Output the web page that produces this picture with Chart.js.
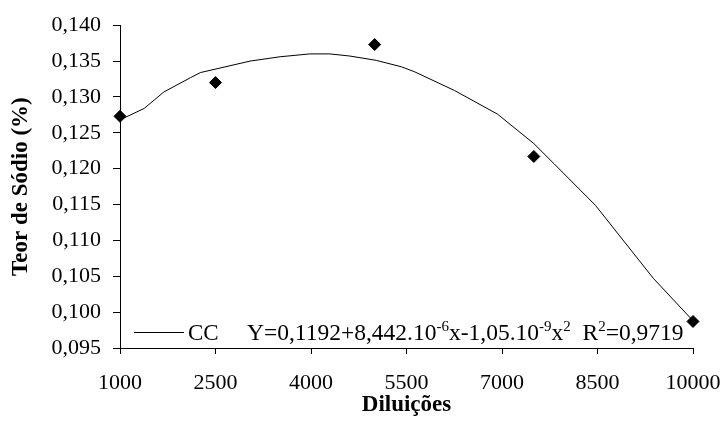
<!DOCTYPE html>
<html>
<head>
<meta charset="utf-8">
<script src="https://cdn.jsdelivr.net/npm/chart.js@4.4.1/dist/chart.umd.min.js"></script>
<style>
  html, body { margin: 0; padding: 0; background: #fff; }
  #wrap { width: 724px; height: 439px; }
</style>
</head>
<body>
<div id="wrap"><canvas id="sodioChart" width="724" height="439"></canvas></div>
<script>
// observed values
var diluicoes = [1000, 2500, 5000, 7500, 10000];
var teorSodio = [0.1273, 0.1320, 0.1373, 0.1217, 0.0987];

// trend line (CC)
var curvaX = [1000, 1380, 1690, 2110, 2265, 3045, 3515, 3985, 4295, 4610, 5025, 5420, 5628, 6253, 6930, 7500, 7816, 8467, 9378, 10000];
var curvaY = [0.1268, 0.1284, 0.1307, 0.1327, 0.1334, 0.1350, 0.1356, 0.1360, 0.1360, 0.1357, 0.1351, 0.1342, 0.1335, 0.1309, 0.1276, 0.1235, 0.1207, 0.1149, 0.1047, 0.0988];

var xTicks = [1000, 2500, 4000, 5500, 7000, 8500, 10000];
var yTicks = [0.095, 0.100, 0.105, 0.110, 0.115, 0.120, 0.125, 0.130, 0.135, 0.140];

var fonte = 'Liberation Serif, Times New Roman, serif';

var pontos = diluicoes.map(function (x, i) { return { x: x, y: teorSodio[i] }; });
var curva = curvaX.map(function (x, i) { return { x: x, y: curvaY[i] }; });

// legend + equation inside the plot, with superscripts
var legendaPlugin = {
  id: 'legenda',
  afterDraw: function (chart) {
    var ctx = chart.ctx;
    var area = chart.chartArea;
    var base = area.bottom - 8;
    ctx.save();
    ctx.strokeStyle = '#000';
    ctx.lineWidth = 1;
    ctx.beginPath();
    ctx.moveTo(area.left + 14, base - 7.5);
    ctx.lineTo(area.left + 64, base - 7.5);
    ctx.stroke();

    ctx.fillStyle = '#000';
    ctx.textBaseline = 'alphabetic';
    ctx.font = '23px ' + fonte;
    ctx.fillText('CC', area.left + 68, base);

    var partes = [
      ['Y=0,1192+8,442.10', false], ['-6', true], ['x-1,05.10', false], ['-9', true],
      ['x', false], ['2', true], ['  R', false], ['2', true], ['=0,9719', false]
    ];
    var x = area.left + 127;
    partes.forEach(function (p) {
      if (p[1]) {
        ctx.font = '15px ' + fonte;
        ctx.fillText(p[0], x, base - 9);
      } else {
        ctx.font = '23.5px ' + fonte;
        ctx.fillText(p[0], x, base);
      }
      x += ctx.measureText(p[0]).width;
    });
    ctx.restore();
  }
};

var ctx = document.getElementById('sodioChart');
var sodioChart = new Chart(ctx, {
  type: 'scatter',
  data: {
    datasets: [{
      label: 'Teor de Sódio',
      data: pontos,
      pointStyle: 'rectRot',
      pointRadius: 6,
      backgroundColor: '#000',
      borderColor: '#000',
      borderWidth: 1,
      showLine: false,
      clip: false,
      order: 1
    }, {
      label: 'CC',
      data: curva,
      showLine: true,
      pointRadius: 0,
      borderColor: '#000',
      borderWidth: 1,
      tension: 0,
      fill: false,
      order: 2
    }]
  },
  options: {
    responsive: false,
    animation: false,
    layout: { padding: { top: 25, right: 31, left: 3, bottom: 16 } },
    plugins: {
      legend: { display: false },
      tooltip: { enabled: false }
    },
    scales: {
      x: {
        type: 'linear',
        min: 1000,
        max: 10000,
        afterBuildTicks: function (axis) {
          axis.ticks = xTicks.map(function (v) { return { value: v }; });
        },
        afterFit: function (axis) {
          axis.height = 439 - 348 - 16;
          axis.paddingRight = 10;
          axis.paddingLeft = 10;
        },
        ticks: {
          color: '#000',
          font: { family: fonte, size: 22 },
          padding: 16,
          maxRotation: 0,
          autoSkip: false,
          callback: function (v) { return String(v); }
        },
        grid: { drawOnChartArea: false, color: '#000', tickLength: 6 },
        border: { color: '#000', width: 1 },
        title: {
          display: true,
          text: 'Diluições',
          color: '#000',
          font: { family: fonte, size: 23, weight: 'bold' },
          padding: 4
        }
      },
      y: {
        min: 0.095,
        max: 0.140,
        afterBuildTicks: function (axis) {
          axis.ticks = yTicks.map(function (v) { return { value: v }; });
        },
        afterFit: function (axis) { axis.width = 120 - 3; },
        ticks: {
          color: '#000',
          font: { family: fonte, size: 22 },
          padding: 12,
          autoSkip: false,
          callback: function (v) { return v.toFixed(3).replace('.', ','); }
        },
        grid: { drawOnChartArea: false, color: '#000', tickLength: 7 },
        border: { color: '#000', width: 1 },
        title: {
          display: true,
          text: 'Teor de Sódio (%)',
          color: '#000',
          font: { family: fonte, size: 23, weight: 'bold' },
          padding: 4
        }
      }
    }
  },
  plugins: [legendaPlugin]
});
</script>
</body>
</html>
